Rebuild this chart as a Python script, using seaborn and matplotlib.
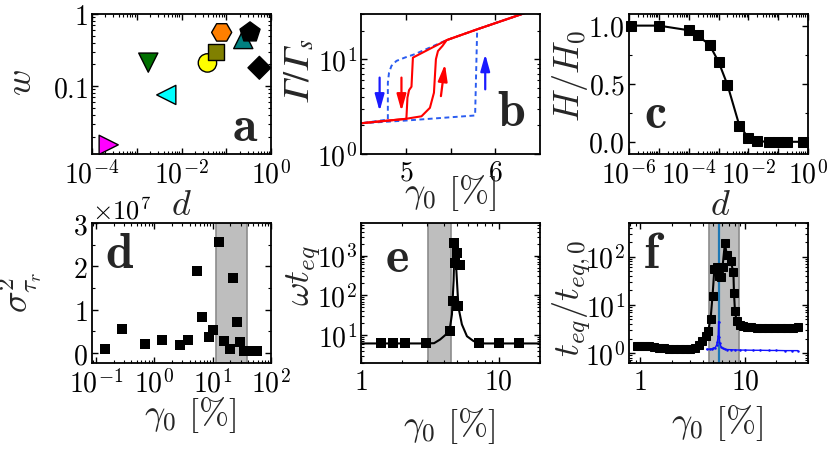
import numpy as np
import pandas as pd
import matplotlib
matplotlib.use('Agg')
import matplotlib.pyplot as plt
import seaborn as sns
from matplotlib.ticker import LogLocator, NullFormatter, MultipleLocator, ScalarFormatter

# ================================================
#  Datos
# ================================================

# (a) w frente a d, una muestra por simbolo
a_muestra = ['m1', 'm2', 'm3', 'm4', 'm5', 'm6', 'm7', 'm8', 'm9']
a_d = [2.36e-4, 4.57e-3, 1.81e-3, 0.038, 0.059, 0.079, 0.24, 0.34, 0.55]
a_w = [0.0154, 0.0757, 0.212, 0.21, 0.30, 0.556, 0.45, 0.556, 0.18]

# (b) barridos de subida y bajada, Gamma/Gamma_s
b_rojo_sube_x = [4.5, 5.0, 5.176, 5.27, 5.315, 5.337, 5.36, 5.41, 5.457, 5.8, 6.3, 6.5]
b_rojo_sube_y = [2.11, 2.35, 2.50, 3.07, 4.43, 10.0, 12.2, 13.8, 15.9, 20.7, 30.0, 34.9]
b_rojo_baja_x = [6.5, 6.3, 5.8, 5.457, 5.08, 5.064, 5.037, 5.019, 5.007, 4.5]
b_rojo_baja_y = [34.9, 30.0, 20.7, 15.9, 10.4, 5.13, 4.72, 3.93, 2.35, 2.11]
b_azul_sube_x = [4.5, 4.99, 5.775, 5.798, 6.3, 6.5]
b_azul_sube_y = [2.11, 2.25, 2.55, 20.7, 30.0, 34.9]
b_azul_baja_x = [6.5, 6.3, 5.8, 5.457, 5.101, 4.989, 4.896, 4.84, 4.813, 4.80, 4.80, 4.5]
b_azul_baja_y = [34.9, 30.0, 20.7, 15.9, 11.3, 10.4, 9.6, 8.5, 7.2, 5.66, 2.31, 2.11]
# flechas: (x_cola, y_cola, x_punta, y_punta)
b_flechas_azul = [(4.708, 6.4, 4.708, 2.83), (5.888, 4.81, 5.888, 11.3)]
b_flechas_rojo = [(4.952, 6.4, 4.952, 2.83), (5.393, 4.08, 5.438, 8.85)]

# (c) H/H0 frente a d
c_d = [1.15e-6, 1e-5, 1e-4, 2e-4, 5e-4, 1e-3, 2e-3, 5e-3, 1e-2, 2e-2, 5e-2, 0.1, 0.2, 0.7]
c_h = [1.0, 1.0, 0.96, 0.915, 0.835, 0.69, 0.49, 0.14, 0.035, 0.005, 0.0, 0.0, 0.0, 0.0]

# (d) varianza sigma^2 frente a gamma0
d_gamma = [0.143, 0.283, 0.69, 1.37, 2.76, 3.83, 5.33, 6.66, 8.67, 10.3, 13.0, 15.9,
           19.9, 22.1, 26.2, 29.5, 35.0, 43.8, 57.0]
d_sigma = [0.092e7, 0.554e7, 0.208e7, 0.307e7, 0.185e7, 0.30e7, 1.886e7, 0.824e7, 0.362e7,
           0.538e7, 2.57e7, 0.284e7, 0.092e7, 1.73e7, 0.723e7, 0.247e7, 0.039e7, 0.039e7, 0.039e7]
d_banda = (11.4, 38.5)

# (e) omega t_eq frente a gamma0
e_gamma = [1.39, 1.70, 2.09, 2.97, 4.40, 4.65, 4.78, 4.98, 4.80, 5.2, 5.11, 7.16, 10.0, 14.0]
e_teq = [6.2, 6.2, 6.2, 6.2, 13.1, 72.6, 2050, 1150, 650, 590, 54, 6.2, 6.2, 6.2]
e_ajuste_x = [1.0, 2.0, 3.0, 3.4, 3.76, 4.09, 4.40, 4.58, 4.71, 4.78, 4.85, 4.98, 5.11,
              5.41, 5.89, 6.58, 7.9, 12.0, 20.0]
e_ajuste_y = [6.2, 6.2, 6.2, 6.3, 7.8, 10.0, 13.1, 33.0, 234, 2000, 1200, 234, 50,
              18.7, 9.4, 7.1, 6.2, 6.2, 6.2]
e_banda = (3.09, 4.5)

# (f) t_eq/t_eq,0 frente a gamma0
f_gamma = [0.92, 1.0, 1.1, 1.2, 1.35, 1.5, 1.7, 1.9, 2.1, 2.4, 2.7, 3.0, 3.3, 3.6, 3.9,
           4.2, 4.45, 4.69, 4.9, 5.1, 5.35, 5.6, 5.85, 6.1, 6.43, 6.7, 7.3, 7.75, 7.85,
           8.02, 8.3, 9.0, 9.6, 10.5, 11.5, 12.9, 14.5, 16.5, 19.0, 22.0, 25.0, 28.5, 32.0]
f_teq = [1.40, 1.42, 1.42, 1.40, 1.35, 1.30, 1.25, 1.22, 1.20, 1.20, 1.20, 1.22, 1.28,
         1.45, 1.75, 2.3, 2.85, 5.0, 15.5, 55, 60, 40, 38, 60, 190, 110, 80, 48, 18,
         7.5, 4.6, 3.8, 3.6, 3.45, 3.4, 3.36, 3.35, 3.35, 3.35, 3.35, 3.36, 3.38, 3.4]
f_azul_x = [4.3, 4.6, 4.8, 5.0, 5.2, 5.35, 5.45, 5.55, 5.6, 5.65, 5.75, 5.9, 6.1, 6.4,
            6.8, 7.3, 8.0, 9.0, 10.0, 12.0, 14.0, 17.0, 20.0, 24.0, 28.0, 32.0]
f_azul_y = [1.2, 1.2, 1.22, 1.25, 1.3, 1.45, 1.7, 2.3, 4.5, 2.2, 1.6, 1.35, 1.25, 1.2,
            1.18, 1.17, 1.16, 1.15, 1.15, 1.14, 1.14, 1.13, 1.13, 1.12, 1.12, 1.12]
f_banda = (4.55, 8.82)
f_critico = 5.63

# ================================================
#  Estilo
# ================================================

sns.set_style('ticks')
plt.rcParams.update({
    'font.family': 'serif',
    'font.serif': ['cmr10', 'DejaVu Serif'],
    'mathtext.fontset': 'cm',
    'axes.formatter.use_mathtext': True,
    'axes.linewidth': 1.3,
    'axes.edgecolor': 'black',
    'xtick.direction': 'in', 'ytick.direction': 'in',
    'xtick.top': True, 'ytick.right': True,
    'xtick.major.size': 4, 'ytick.major.size': 4,
    'xtick.minor.size': 2.2, 'ytick.minor.size': 2.2,
    'xtick.major.width': 1.0, 'ytick.major.width': 1.0,
    'xtick.minor.width': 0.8, 'ytick.minor.width': 0.8,
    'xtick.color': 'black', 'ytick.color': 'black',
    'xtick.labelsize': 20, 'ytick.labelsize': 20,
    'axes.labelsize': 26,
    'xtick.major.pad': 4, 'ytick.major.pad': 3,
})

fig = plt.figure(figsize=(8.3, 4.56), dpi=100)
W, H = 830, 456


def caja(x0, y0, x1, y1):
    return fig.add_axes([x0 / W, 1 - y1 / H, (x1 - x0) / W, (y1 - y0) / H])


def menores_log(eje):
    eje.set_minor_locator(LogLocator(base=10, subs=np.arange(2, 10), numticks=60))
    eje.set_minor_formatter(NullFormatter())


def letra(ax, x, y, s):
    ax.text(x, y, r'$\mathbf{%s}$' % s, transform=ax.transAxes, fontsize=36,
            ha='center', va='center')


ax_a = caja(92, 15, 271, 155)
ax_b = caja(361, 15, 540, 155)
ax_c = caja(629, 15, 808, 155)
ax_d = caja(92, 224, 271, 364)
ax_e = caja(361, 224, 540, 364)
ax_f = caja(629, 224, 808, 364)

# ---------------- (a) ----------------
ax = ax_a
tabla_a = pd.DataFrame({'d': a_d, 'w': a_w, 'muestra': a_muestra})
colores_a = dict(zip(a_muestra, ['#ff00ff', '#00ffff', '#007000', '#ffff00', '#808000',
                                 '#ff7f00', '#008080', '#000000', '#000000']))
marcas_a = dict(zip(a_muestra, ['>', '<', 'v', 'o', 's', 'H', '^', 'p', 'D']))
tamanos_a = dict(zip(a_muestra, [190, 190, 190, 175, 135, 210, 190, 230, 135]))
sns.scatterplot(data=tabla_a, x='d', y='w', hue='muestra', style='muestra',
                size='muestra', sizes=tamanos_a,
                palette=colores_a, markers=marcas_a, edgecolor='black',
                linewidth=1.0, legend=False, ax=ax, clip_on=False, zorder=3)
ax.set_xscale('log')
ax.set_yscale('log')
ax.set_xlim(1e-4, 1)
ax.set_ylim(0.0115, 1)
ax.set_xticks([1e-4, 1e-3, 1e-2, 1e-1, 1], [r'$10^{-4}$', '', r'$10^{-2}$', '', r'$10^{0}$'])
ax.set_yticks([0.1, 1], [r'$0.1$', r'$1$'])
menores_log(ax.xaxis)
menores_log(ax.yaxis)
ax.set_xlabel(r'$d$')
ax.set_ylabel(r'$w$')
ax.xaxis.set_label_coords(0.5, -0.25)
ax.yaxis.set_label_coords(-0.3, 0.52)
letra(ax, 0.855, 0.19, 'a')

# ---------------- (b) ----------------
ax = ax_b
azul_b = '#2a5cf0'
sns.lineplot(x=b_azul_sube_x, y=b_azul_sube_y, sort=False, estimator=None, ax=ax,
             color=azul_b, lw=1.4, linestyle=(0, (2.5, 1.8)))
sns.lineplot(x=b_azul_baja_x, y=b_azul_baja_y, sort=False, estimator=None, ax=ax,
             color=azul_b, lw=1.4, linestyle=(0, (2.5, 1.8)))
sns.lineplot(x=b_rojo_sube_x, y=b_rojo_sube_y, sort=False, estimator=None, ax=ax,
             color='#ff0000', lw=1.5)
sns.lineplot(x=b_rojo_baja_x, y=b_rojo_baja_y, sort=False, estimator=None, ax=ax,
             color='#ff0000', lw=1.5)
for flechas, col in [(b_flechas_azul, '#1a1aff'), (b_flechas_rojo, '#ff0000')]:
    for x0, y0, x1, y1 in flechas:
        ax.annotate('', xy=(x1, y1), xytext=(x0, y0),
                    arrowprops=dict(arrowstyle='-|>,head_width=0.28,head_length=1.0',
                                    color=col, lw=1.6, shrinkA=0, shrinkB=0))
ax.set_yscale('log')
ax.set_xlim(4.5, 6.5)
ax.set_ylim(1, 30)
ax.set_xticks([5, 5.5, 6], [r'$5$', '', r'$6$'])
ax.set_yticks([1, 10], [r'$10^{0}$', r'$10^{1}$'])
menores_log(ax.yaxis)
ax.set_xlabel(r'$\gamma_0\ [\%]$')
ax.set_ylabel('$\U0001D6E4/\U0001D6E4_s$', math_fontfamily='stix')
ax.xaxis.set_label_coords(0.5, -0.13)
ax.yaxis.set_label_coords(-0.25, 0.6)
letra(ax, 0.836, 0.297, 'b')

# ---------------- (c) ----------------
ax = ax_c
sns.lineplot(x=c_d, y=c_h, sort=False, estimator=None, ax=ax, color='black', lw=1.5,
             marker='s', markersize=6.5, markeredgecolor='black', clip_on=False)
ax.set_xscale('log')
ax.set_xlim(1e-6, 1)
ax.set_ylim(-0.105, 1.1)
ax.set_xticks([1e-6, 1e-5, 1e-4, 1e-3, 1e-2, 1e-1, 1],
              [r'$10^{-6}$', '', r'$10^{-4}$', '', r'$10^{-2}$', '', r'$10^{0}$'])
ax.set_yticks([0, 0.5, 1.0], [r'$0.0$', r'$0.5$', r'$1.0$'])
ax.yaxis.set_minor_locator(MultipleLocator(0.25))
menores_log(ax.xaxis)
ax.set_xlabel(r'$d$')
ax.set_ylabel(r'$H/H_0$')
ax.xaxis.set_label_coords(0.51, -0.25)
ax.yaxis.set_label_coords(-0.22, 0.56)
letra(ax, 0.145, 0.286, 'c')

# ---------------- (d) ----------------
ax = ax_d
ax.axvspan(*d_banda, facecolor='#bebebe', edgecolor='#8c8c8c', lw=1.2, zorder=0)
sns.scatterplot(x=d_gamma, y=d_sigma, marker='s', s=60, color='black', linewidth=0,
                ax=ax, zorder=3)
ax.set_xscale('log')
ax.set_xlim(0.085, 100)
ax.set_ylim(-0.23e7, 3e7)
ax.set_xticks([0.1, 1, 10, 100], [r'$10^{-1}$', r'$10^{0}$', r'$10^{1}$', r'$10^{2}$'])
ax.yaxis.set_major_locator(MultipleLocator(1e7))
ax.yaxis.set_minor_locator(MultipleLocator(0.5e7))
fmt = ScalarFormatter(useMathText=True)
fmt.set_powerlimits((0, 0))
ax.yaxis.set_major_formatter(fmt)
ax.yaxis.get_offset_text().set_fontsize(19)
menores_log(ax.xaxis)
ax.set_xlabel(r'$\gamma_0\ [\%]$')
ax.set_ylabel(r'$\sigma^2_{\tau_r}$')
ax.xaxis.set_label_coords(0.55, -0.22)
ax.yaxis.set_label_coords(-0.27, 0.51)
letra(ax, 0.151, 0.78, 'd')

# ---------------- (e) ----------------
ax = ax_e
ax.axvspan(*e_banda, facecolor='#bebebe', edgecolor='#8c8c8c', lw=1.2, zorder=0)
sns.lineplot(x=e_ajuste_x, y=e_ajuste_y, sort=False, estimator=None, ax=ax,
             color='black', lw=1.5)
sns.scatterplot(x=e_gamma, y=e_teq, marker='s', s=60, color='black', linewidth=0,
                ax=ax, zorder=3)
ax.set_xscale('log')
ax.set_yscale('log')
ax.set_xlim(1, 20)
ax.set_ylim(2.0, 6600)
ax.set_xticks([1, 10], [r'$1$', r'$10$'])
ax.set_yticks([10, 100, 1000], [r'$10^{1}$', r'$10^{2}$', r'$10^{3}$'])
menores_log(ax.xaxis)
menores_log(ax.yaxis)
ax.set_xlabel(r'$\gamma_0\ [\%]$')
ax.set_ylabel(r'$\omega t_{eq}$')
ax.xaxis.set_label_coords(0.49, -0.3)
ax.yaxis.set_label_coords(-0.21, 0.63)
letra(ax, 0.203, 0.75, 'e')

# ---------------- (f) ----------------
ax = ax_f
ax.axvspan(*f_banda, facecolor='#bebebe', edgecolor='#8c8c8c', lw=1.2, zorder=0)
ax.axvline(f_critico, color='#1f78b4', lw=1.6, zorder=1)
sns.lineplot(x=f_gamma, y=f_teq, sort=False, estimator=None, ax=ax, color='black',
             lw=1.5, marker='s', markersize=6, markeredgecolor='black', zorder=3)
sns.lineplot(x=f_azul_x, y=f_azul_y, sort=False, estimator=None, ax=ax, color='#1010ff',
             lw=1.0, marker='o', markersize=1.8, markeredgewidth=0, zorder=4)
ax.set_xscale('log')
ax.set_yscale('log')
ax.set_xlim(0.78, 40)
ax.set_ylim(0.62, 500)
ax.set_xticks([1, 10], [r'$1$', r'$10$'])
ax.set_yticks([1, 10, 100], [r'$10^{0}$', r'$10^{1}$', r'$10^{2}$'])
menores_log(ax.xaxis)
menores_log(ax.yaxis)
ax.set_xlabel(r'$\gamma_0\ [\%]$')
ax.set_ylabel(r'$t_{eq}/t_{eq,0}$')
ax.xaxis.set_label_coords(0.494, -0.28)
ax.yaxis.set_label_coords(-0.2, 0.47)
letra(ax, 0.14, 0.78, 'f')

for ax in [ax_a, ax_b, ax_c, ax_d, ax_e, ax_f]:
    ax.tick_params(which='both', top=True, right=True, direction='in')
    for sp in ax.spines.values():
        sp.set_visible(True)

fig.savefig('out.png', dpi=100)
